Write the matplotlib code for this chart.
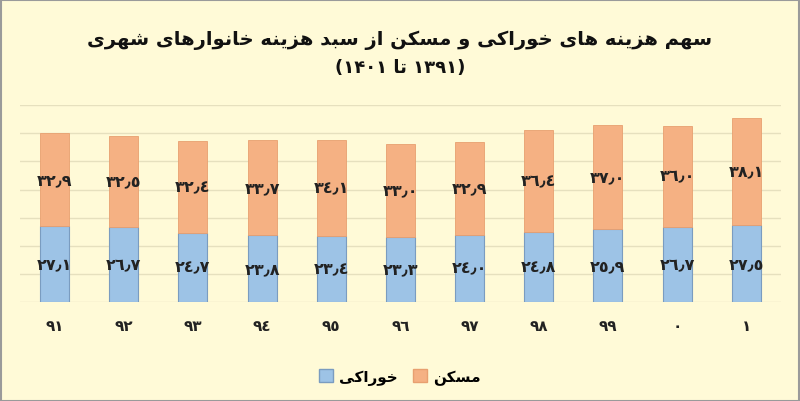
import numpy as np
import matplotlib
matplotlib.use("Agg")
import matplotlib.pyplot as plt
from matplotlib.patches import Patch

# داده ها
years = ["٩١", "٩٢", "٩٣", "٩٤", "٩٥", "٩٦", "٩٧", "٩٨", "٩٩", "٠", "١"]
food = [27.1, 26.7, 24.7, 23.8, 23.4, 23.3, 24.0, 24.8, 25.9, 26.7, 27.5]
housing = [32.9, 32.5, 32.4, 33.7, 34.1, 33.0, 32.9, 36.4, 37.0, 36.0, 38.1]

title_1 = "سهم هزینه های خوراکی و مسکن از سبد هزینه خانوارهای شهری"
year_from = "۱۳۹۱"
year_to = "۱۴۰۱"
word_to = "تا"
food_name = "خوراکی"
housing_name = "مسکن"

# matplotlib حروف عربی را به هم نمی چسباند، پس شکل حروف را خودمان انتخاب می کنیم
# (iso, fin, ini, med)
FORMS = {
    "ا": ("\uFE8D", "\uFE8E", None, None),
    "ب": ("\uFE8F", "\uFE90", "\uFE91", "\uFE92"),
    "ت": ("\uFE95", "\uFE96", "\uFE97", "\uFE98"),
    "خ": ("\uFEA5", "\uFEA6", "\uFEA7", "\uFEA8"),
    "د": ("\uFEA9", "\uFEAA", None, None),
    "ر": ("\uFEAD", "\uFEAE", None, None),
    "ز": ("\uFEAF", "\uFEB0", None, None),
    "س": ("\uFEB1", "\uFEB2", "\uFEB3", "\uFEB4"),
    "ش": ("\uFEB5", "\uFEB6", "\uFEB7", "\uFEB8"),
    "ک": ("\uFB8E", "\uFB8F", "\uFB90", "\uFB91"),
    "م": ("\uFEE1", "\uFEE2", "\uFEE3", "\uFEE4"),
    "ن": ("\uFEE5", "\uFEE6", "\uFEE7", "\uFEE8"),
    "ه": ("\uFEE9", "\uFEEA", "\uFEEB", "\uFEEC"),
    "و": ("\uFEED", "\uFEEE", None, None),
    "ی": ("\uFBFC", "\uFBFD", "\uFBFE", "\uFBFF"),
}


def rtl(text):
    out = []
    for i, c in enumerate(text):
        if c not in FORMS:
            out.append(c)
            continue
        prev = text[i - 1] if i > 0 else ""
        nxt = text[i + 1] if i + 1 < len(text) else ""
        join_prev = prev in FORMS and FORMS[prev][2] is not None
        join_next = nxt in FORMS and FORMS[c][2] is not None
        iso, fin, ini, med = FORMS[c]
        if join_prev and join_next:
            out.append(med)
        elif join_prev:
            out.append(fin)
        elif join_next:
            out.append(ini)
        else:
            out.append(iso)
    return "".join(out)[::-1]


def fa_num(v):
    digits = "٠١٢٣٤٥٦٧٨٩"
    s = f"{v:.1f}"
    return "".join(digits[int(ch)] if ch.isdigit() else "٫" for ch in s)


plt.rcParams["font.family"] = ["DejaVu Sans"]

bg = "#FFFAD7"
blue = "#9DC3E6"
orange = "#F5B183"

fig = plt.figure(figsize=(8, 4.02), dpi=100, facecolor=bg)
ax = fig.add_axes([0.025, 0.246, 0.951, 0.49])
ax.set_facecolor(bg)

x = np.arange(len(years))
w = 0.42
ax.bar(x, food, width=w, color=blue, edgecolor="#7A9CC0", linewidth=0.8, zorder=3)
ax.bar(x, housing, width=w, bottom=food, color=orange, edgecolor="#E8A070",
       linewidth=0.6, zorder=3)

for i in range(len(years)):
    ax.text(x[i], food[i] / 2, fa_num(food[i]), ha="center", va="center",
            fontsize=11.5, fontweight="bold", color="#222222", zorder=4)
    ax.text(x[i], food[i] + housing[i] / 2, fa_num(housing[i]), ha="center",
            va="center", fontsize=11.5, fontweight="bold", color="#222222", zorder=4)

ax.set_xlim(-0.5, len(years) - 0.5)
ax.set_ylim(0, 70)
ax.set_yticks(np.arange(0, 71, 10))
ax.yaxis.grid(True, color="#E6E0BE", linewidth=1.0, zorder=0)
ax.tick_params(left=False, labelleft=False, bottom=False)
ax.set_xticks(x)
ax.set_xticklabels(years, fontsize=11, fontweight="bold", color="#222222")
ax.tick_params(axis="x", pad=8)
for s in ax.spines.values():
    s.set_visible(False)

fig.text(0.5, 0.9, rtl(title_1), ha="center", va="center", fontsize=14,
         fontweight="bold", color="#111111")
line2 = "(" + year_to + " " + rtl(word_to) + " " + year_from + ")"
fig.text(0.5, 0.83, line2, ha="center", va="center", fontsize=13,
         fontweight="bold", color="#111111")

handles = [Patch(facecolor=blue, edgecolor="#7A9CC0"),
           Patch(facecolor=orange, edgecolor="#E8A070")]
fig.legend(handles, [rtl(food_name), rtl(housing_name)], loc="center",
           bbox_to_anchor=(0.5, 0.06), ncol=2, frameon=False,
           prop={"weight": "bold", "size": 11}, handlelength=0.9,
           handleheight=0.9, columnspacing=1.0, handletextpad=0.4)

fig.patches.append(plt.Rectangle((0.001, 0.001), 0.998, 0.997, transform=fig.transFigure,
                                 fill=False, edgecolor="#9A9A9A", linewidth=1.5))

fig.savefig("out.png", dpi=100, facecolor=bg)
